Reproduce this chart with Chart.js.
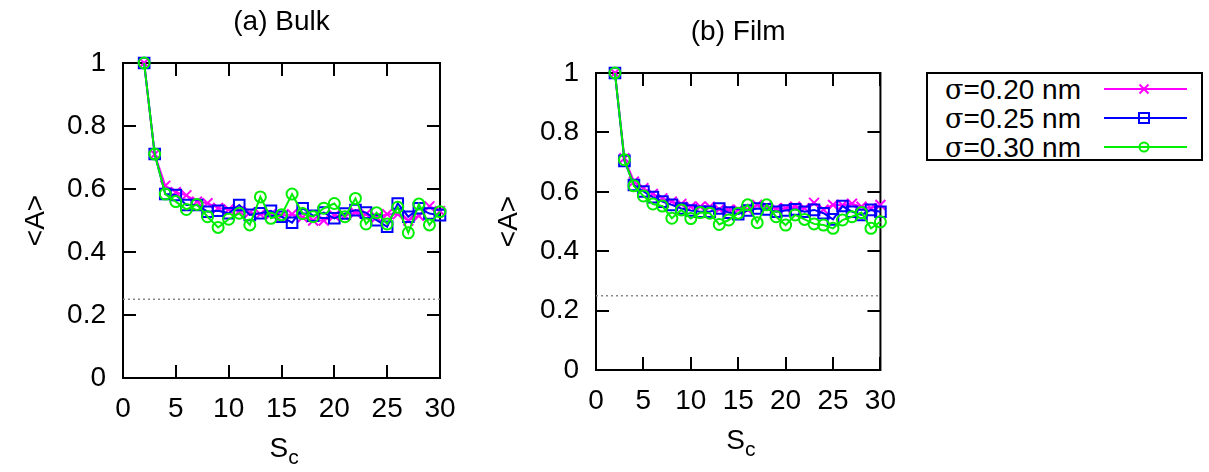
<!DOCTYPE html>
<html lang="en">
<head>
    <meta charset="UTF-8">
    <title>&lt;A&gt; vs S_c</title>
    <script src="https://cdn.jsdelivr.net/npm/chart.js"></script>
    <style>
        body { margin: 0; background: #fff; width: 1209px; height: 472px; position: relative; overflow: hidden;
               font-family: "Liberation Sans", Arial, sans-serif; }
        canvas { position: absolute; top: 0; }
        #legend { position: absolute; left: 926px; top: 72px; width: 273px; height: 85px;
                  border: 2px solid #000; }
        .row { position: absolute; left: 17px; height: 29px; font-size: 28px; line-height: 29px; color: #000; }
        .row .sig { font-family: "DejaVu Serif", "Liberation Serif", serif; font-size: 27px; }
        #legend svg { position: absolute; left: 174px; top: 0; }
    </style>
</head>
<body>
    <canvas id="bulkChart" width="470" height="472" style="left:0"></canvas>
    <canvas id="filmChart" width="440" height="472" style="left:470px"></canvas>

    <div id="legend">
        <div class="row" style="top:1px"><span class="sig">σ</span>=0.20 nm</div>
        <div class="row" style="top:30px"><span class="sig">σ</span>=0.25 nm</div>
        <div class="row" style="top:59px"><span class="sig">σ</span>=0.30 nm</div>
        <svg width="90" height="85">
            <line x1="2" y1="15" x2="85" y2="15" stroke="#ff00ff" stroke-width="2"/>
            <path d="M37.5 10.5 L46.5 19.5 M46.5 10.5 L37.5 19.5" stroke="#ff00ff" stroke-width="2"/>
            <line x1="2" y1="44" x2="85" y2="44" stroke="#0000ff" stroke-width="2"/>
            <rect x="37" y="39" width="10" height="10" fill="none" stroke="#0000ff" stroke-width="2"/>
            <line x1="2" y1="73" x2="85" y2="73" stroke="#00ee00" stroke-width="2"/>
            <circle cx="42" cy="73" r="4.5" fill="none" stroke="#00ee00" stroke-width="2"/>
        </svg>
    </div>

    <script>
        // S_c values (cluster size)
        const sc = [2, 3, 4, 5, 6, 7, 8, 9, 10, 11, 12, 13, 14, 15, 16, 17, 18, 19, 20,
                    21, 22, 23, 24, 25, 26, 27, 28, 29, 30];

        // (a) Bulk
        const bulk020 = [1.0, 0.71, 0.61, 0.59, 0.58, 0.56, 0.555, 0.54, 0.535, 0.53, 0.525, 0.52, 0.52, 0.515, 0.52,
                         0.51, 0.50, 0.50, 0.515, 0.515, 0.525, 0.52, 0.51, 0.52, 0.52, 0.50, 0.515, 0.545, 0.53];
        const bulk025 = [1.0, 0.711, 0.584, 0.581, 0.549, 0.549, 0.528, 0.531, 0.523, 0.549, 0.518, 0.523, 0.531, 0.512, 0.493,
                         0.539, 0.515, 0.525, 0.507, 0.522, 0.533, 0.525, 0.501, 0.480, 0.554, 0.512, 0.539, 0.522, 0.517];
        const bulk030 = [1.0, 0.711, 0.584, 0.560, 0.535, 0.551, 0.512, 0.478, 0.504, 0.523, 0.486, 0.575, 0.507, 0.518, 0.584,
                         0.522, 0.512, 0.539, 0.554, 0.512, 0.570, 0.489, 0.525, 0.489, 0.542, 0.461, 0.552, 0.486, 0.528];

        // (b) Film
        const film020 = [1.0, 0.713, 0.634, 0.612, 0.593, 0.578, 0.567, 0.559, 0.550, 0.550, 0.550, 0.541, 0.539, 0.540, 0.540,
                         0.556, 0.550, 0.544, 0.545, 0.550, 0.545, 0.563, 0.540, 0.556, 0.555, 0.560, 0.550, 0.545, 0.556];
        const film025 = [1.0, 0.704, 0.623, 0.601, 0.582, 0.567, 0.556, 0.544, 0.537, 0.533, 0.533, 0.544, 0.530, 0.525, 0.537,
                         0.544, 0.541, 0.533, 0.537, 0.541, 0.533, 0.539, 0.528, 0.507, 0.552, 0.533, 0.522, 0.539, 0.533];
        const film030 = [1.0, 0.708, 0.620, 0.586, 0.559, 0.552, 0.511, 0.539, 0.510, 0.530, 0.528, 0.490, 0.505, 0.528, 0.556,
                         0.496, 0.556, 0.516, 0.488, 0.522, 0.507, 0.492, 0.488, 0.477, 0.505, 0.516, 0.530, 0.477, 0.499];

        // random-chance level (dotted)
        const refLevel = 0.25;
        const refRange = [0, 30];

        const xTicks = [0, 5, 10, 15, 20, 25, 30];
        const yTicks = [0, 0.2, 0.4, 0.6, 0.8, 1];

        const FONT = '"Liberation Sans", Arial, sans-serif';

        const toPoints = (ys) => sc.map((x, i) => ({ x: x, y: ys[i] }));

        // frame, inward ticks on all four sides, panel title and axis titles
        const framePlugin = {
            id: 'frame',
            beforeDatasetsDraw(chart, args, opts) {
                const { ctx, chartArea: a, scales } = chart;
                ctx.save();
                ctx.strokeStyle = '#000';
                ctx.lineWidth = 2;
                ctx.beginPath();
                scales.x.ticks.forEach(t => {
                    const px = Math.round(scales.x.getPixelForValue(t.value));
                    ctx.moveTo(px, a.bottom); ctx.lineTo(px, a.bottom - 13);
                    ctx.moveTo(px, a.top); ctx.lineTo(px, a.top + 13);
                });
                scales.y.ticks.forEach(t => {
                    const py = Math.round(scales.y.getPixelForValue(t.value));
                    ctx.moveTo(a.left, py); ctx.lineTo(a.left + 13, py);
                    ctx.moveTo(a.right, py); ctx.lineTo(a.right - 13, py);
                });
                ctx.stroke();
                ctx.strokeRect(a.left, a.top, a.right - a.left, a.bottom - a.top);
                ctx.restore();
            },
            afterDraw(chart, args, opts) {
                const { ctx, chartArea: a } = chart;
                const cx = (a.left + a.right) / 2;
                const cy = (a.top + a.bottom) / 2;
                ctx.save();
                ctx.fillStyle = '#000';
                ctx.textAlign = 'center';
                ctx.textBaseline = 'middle';
                ctx.font = '28px ' + FONT;
                ctx.fillText(opts.title, cx, a.top - 41);

                // S with subscript c
                const sW = ctx.measureText('S').width;
                ctx.textAlign = 'left';
                ctx.fillText('S', cx - 12, a.bottom + 71);
                ctx.font = '21px ' + FONT;
                ctx.fillText('c', cx - 12 + sW, a.bottom + 80);

                // <A>
                ctx.font = '28px ' + FONT;
                ctx.textAlign = 'center';
                ctx.translate(a.left - 87, cy);
                ctx.rotate(-Math.PI / 2);
                ctx.fillText('<A>', 0, 0);
                ctx.restore();
            }
        };

        function makeChart(id, title, s020, s025, s030, pad) {
            const ctx = document.getElementById(id).getContext('2d');
            return new Chart(ctx, {
                type: 'line',
                data: {
                    datasets: [
                        {
                            label: 'σ=0.30 nm', data: toPoints(s030),
                            borderColor: '#00ee00', borderWidth: 2,
                            pointStyle: 'circle', pointRadius: 5.5, pointBorderWidth: 2,
                            pointBackgroundColor: 'rgba(0,0,0,0)', pointBorderColor: '#00ee00'
                        },
                        {
                            label: 'σ=0.25 nm', data: toPoints(s025),
                            borderColor: '#0000ff', borderWidth: 2,
                            pointStyle: 'rect', pointRadius: 7.5, pointBorderWidth: 2,
                            pointBackgroundColor: 'rgba(0,0,0,0)', pointBorderColor: '#0000ff'
                        },
                        {
                            label: 'σ=0.20 nm', data: toPoints(s020),
                            borderColor: '#ff00ff', borderWidth: 2,
                            pointStyle: 'crossRot', pointRadius: 7, pointBorderWidth: 2,
                            pointBorderColor: '#ff00ff'
                        },
                        {
                            label: 'ref', data: refRange.map(x => ({ x: x, y: refLevel })),
                            borderColor: '#888', borderWidth: 1.5, borderDash: [2, 3],
                            pointRadius: 0
                        }
                    ]
                },
                options: {
                    responsive: false,
                    animation: false,
                    clip: false,
                    layout: { padding: { left: 0, right: pad.right, top: pad.top, bottom: 0 } },
                    plugins: {
                        legend: { display: false },
                        tooltip: { enabled: false },
                        frame: { title: title }
                    },
                    scales: {
                        x: {
                            type: 'linear', min: 0, max: 30,
                            afterBuildTicks: (s) => { s.ticks = xTicks.map(v => ({ value: v })); },
                            afterFit: (s) => { s.height = pad.xHeight; },
                            grid: { display: false, drawTicks: false },
                            border: { display: false },
                            ticks: { padding: 14, color: '#000', font: { family: FONT, size: 28 } }
                        },
                        y: {
                            type: 'linear', min: 0, max: 1,
                            afterBuildTicks: (s) => { s.ticks = yTicks.map(v => ({ value: v })); },
                            afterFit: (s) => { s.width = pad.yWidth; },
                            grid: { display: false, drawTicks: false },
                            border: { display: false },
                            ticks: { padding: 17, color: '#000', font: { family: FONT, size: 28 },
                                     callback: (v) => String(v) }
                        }
                    }
                },
                plugins: [framePlugin]
            });
        }

        makeChart('bulkChart', '(a) Bulk', bulk020, bulk025, bulk030,
                  { right: 30, top: 63, xHeight: 94, yWidth: 123 });
        makeChart('filmChart', '(b) Film', film020, film025, film030,
                  { right: 19, top: 73, xHeight: 102, yWidth: 126 });
    </script>
</body>
</html>
